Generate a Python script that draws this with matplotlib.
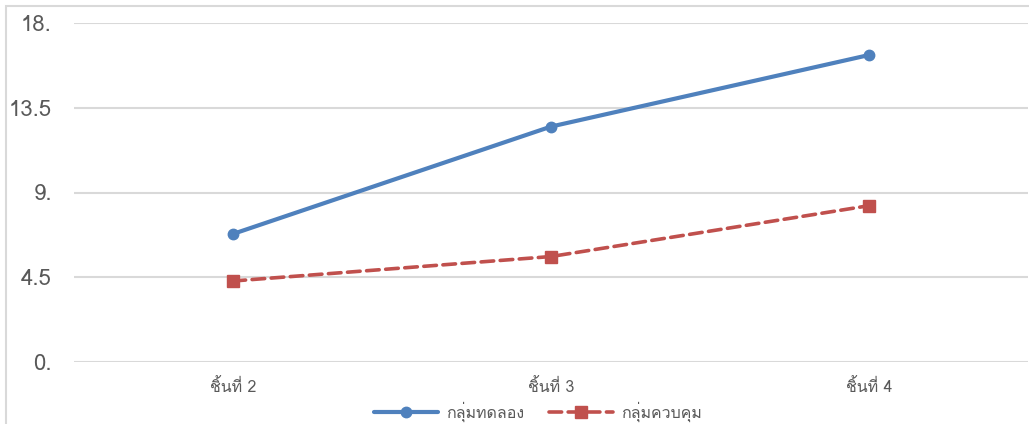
import matplotlib
matplotlib.use('Agg')
import matplotlib.pyplot as plt
from matplotlib import font_manager
from matplotlib.ft2font import FT2Font
from matplotlib.patches import Rectangle

# ข้อมูล
categories = ['ชิ้นที่ 2', 'ชิ้นที่ 3', 'ชิ้นที่ 4']
experiment = [6.8, 12.5, 16.3]
control = [4.3, 5.6, 8.3]
series_names = ['กลุ่มทดลอง', 'กลุ่มควบคุม']
y_ticks = [0, 4.5, 9, 13.5, 18]
y_labels = ['0.', '4.5', '9.', '13.5', '18.']


# หาฟอนต์ที่มีอักษรไทย
def find_thai_font():
    for f in font_manager.fontManager.ttflist:
        try:
            if ord('ก') in FT2Font(f.fname).get_charmap():
                return f.name
        except Exception:
            pass
    return None


thai = find_thai_font()
fams = ([thai] if thai else []) + ['DejaVu Sans']
plt.rcParams['font.family'] = fams

fig = plt.figure(figsize=(10.29, 4.24), dpi=100)
W, H = 1029, 424
ax = fig.add_axes([74 / W, 1 - 362 / H, (1028 - 74) / W, (362 - 23) / H])

fig.patches.append(Rectangle((6 / W, -0.05), 1.1, 1 - 6 / H + 0.05, transform=fig.transFigure,
                             fill=False, edgecolor='#d9d9d9', linewidth=1.5))

x = list(range(len(categories)))
ax.plot(x, experiment, color='#4f81bd', linewidth=3, marker='o', markersize=7.5,
        label=series_names[0], solid_capstyle='round')
ax.plot(x, control, color='#c0504d', linewidth=2.6, linestyle=(0, (3.5, 1.8)), marker='s',
        markersize=8.5, label=series_names[1], dash_capstyle='round')

ax.set_xlim(-0.5, 2.5)
ax.set_ylim(0, 18)
ax.set_yticks(y_ticks)
ax.set_yticklabels(y_labels)
ax.set_xticks(x)
ax.set_xticklabels(categories)
ax.grid(axis='y', color='#d9d9d9', linewidth=1.5)
ax.set_axisbelow(True)
for s in ax.spines.values():
    s.set_visible(False)
ax.tick_params(axis='y', length=0, pad=16, labelsize=16, labelcolor='#595959')
ax.tick_params(axis='x', length=0, pad=12, labelsize=11.5, labelcolor='#595959')

leg = fig.legend(loc='center', bbox_to_anchor=(538 / W, 1 - 412 / H), ncol=2, frameon=False,
                 handlelength=4.0, fontsize=11.5, columnspacing=1.6, handletextpad=0.5,
                 borderaxespad=0)
for t in leg.get_texts():
    t.set_color('#595959')

fig.savefig('out.png', dpi=100)
